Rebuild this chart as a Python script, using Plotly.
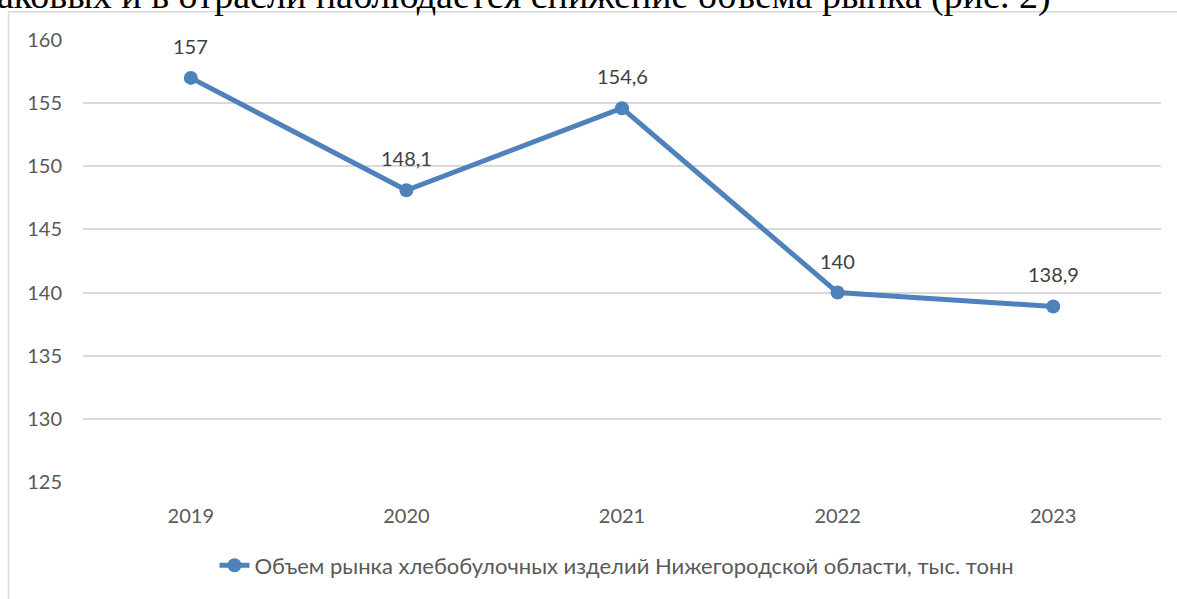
import plotly.graph_objects as go

years = ["2019", "2020", "2021", "2022", "2023"]
values = [157, 148.1, 154.6, 140, 138.9]
series_name = "Объем рынка хлебобулочных изделий Нижегородской области, тыс. тонн"
header_text = "злаковых и в отрасли наблюдается снижение объема рынка (рис. 2)"
y_ticks = [125, 130, 135, 140, 145, 150, 155, 160]

W, H = 1177, 599
ml, mr, mt, mb = 83, 16, 40, 114
pw, ph = W - ml - mr, H - mt - mb

def px_x(x):
    return (x - ml) / pw

def px_y(y):
    return (H - mb - y) / ph

blue = "#4F81BD"
grey_text = "#595959"
font_fam = "Lato, 'Open Sans', sans-serif"

fig = go.Figure()
fig.add_trace(go.Scatter(
    x=years, y=values, mode="lines+markers", name=series_name,
    line=dict(color=blue, width=5),
    marker=dict(color=blue, size=14),
))

for i, v in enumerate(values):
    fig.add_annotation(x=i, y=v, text=f"{v:g}".replace(".", ","), showarrow=False,
                       yshift=32, font=dict(size=20, color="#404040", family=font_fam))

# document text partly cut off at the top edge
fig.add_annotation(xref="paper", yref="paper", x=px_x(1053), y=px_y(19), xanchor="right", yanchor="bottom",
                   text=header_text, showarrow=False,
                   font=dict(family="'Liberation Serif', 'Times New Roman', serif", size=38, color="black"))

fig.add_shape(type="line", xref="paper", yref="paper", x0=px_x(8.5), x1=px_x(8.5), y0=px_y(11.5), y1=px_y(605),
              line=dict(color="#D9D9D9", width=1.5))
fig.add_shape(type="line", xref="paper", yref="paper", x0=px_x(8.5), x1=px_x(1185), y0=px_y(11.5), y1=px_y(11.5),
              line=dict(color="#D9D9D9", width=1.5))

fig.update_layout(
    width=W, height=H,
    margin=dict(l=ml, r=mr, t=mt, b=mb),
    paper_bgcolor="white", plot_bgcolor="white",
    font=dict(family=font_fam, size=20, color=grey_text),
    showlegend=True,
    legend=dict(orientation="h", x=px_x(617), y=px_y(569), xanchor="center", yanchor="middle",
                font=dict(size=22, color=grey_text), bgcolor="rgba(0,0,0,0)"),
    xaxis=dict(type="category", showgrid=False, zeroline=False, showline=False,
               ticks="", ticklabelstandoff=20, tickfont=dict(size=20, color=grey_text),
               range=[-0.5, 4.5]),
    yaxis=dict(range=[125, 160], tickvals=y_ticks, showgrid=True, gridcolor="#D9D9D9", gridwidth=1.5,
               zeroline=False, showline=False, ticks="", ticklabelstandoff=20,
               tickfont=dict(size=20, color=grey_text)),
)

fig.write_html("out.html", config={"displayModeBar": False},
               post_script="document.body.style.margin='0px';")
